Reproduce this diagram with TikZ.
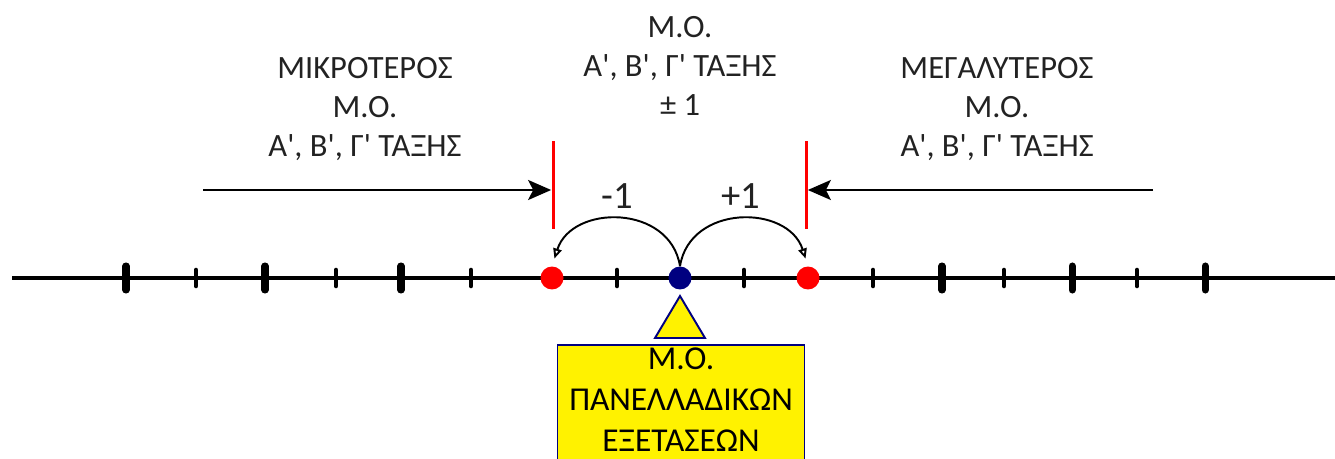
\documentclass[tikz,border=0pt]{standalone}
\usepackage{fontspec}
\setmainfont{Carlito}[Ligatures=TeXOff]
\usetikzlibrary{arrows.meta}
\definecolor{moblue}{RGB}{0,0,128}
\definecolor{txtgray}{RGB}{34,34,34}

\begin{document}
\begin{tikzpicture}[x=0.02cm, y=-0.02cm,
    txt/.style={align=center, text=txtgray, font=\fontsize{18.5}{22}\selectfont},
    dot/.style={circle, inner sep=0pt, minimum size=0.46cm},
    bar/.style={fill=red, inner sep=0pt, minimum width=0.06cm, minimum height=1.78cm},
    major/.style={line width=4pt, line cap=round},
    minor/.style={line width=2.6pt, line cap=round},
    jump/.style={line width=1.1pt, -{Triangle[open, length=0.2cm, width=0.17cm]}, shorten >=0.16cm},
    limit/.style={line width=1.2pt, -{Stealth[length=0.46cm, width=0.4cm, inset=0.1cm]}}]
  \clip (0,0) rectangle (1335,459);

  % number line
  \draw[line width=2.8pt] (12,278) -- (1335,278);
  \foreach \x in {126,265,401,942,1072,1205}
    \draw[major] (\x,266) -- (\x,290);
  \foreach \x in {196,336,471,617,744,873,1004,1137}
    \draw[minor] (\x,270) -- (\x,286);

  \node[dot, fill=red] at (552,278) (lo) {};
  \node[dot, fill=moblue] at (680,278) (mo) {};
  \node[dot, fill=red] at (808,278) (hi) {};

  % limits
  \node[bar] at (553,185) (barL) {};
  \node[bar] at (806,185) (barR) {};
  \coordinate (startL) at (203,190);
  \coordinate (startR) at (1153,190);
  \draw[limit] (startL) -- (startL -| barL.west);
  \draw[limit] (startR) -- (startR -| barR.east);

  % -1 / +1
  \draw[jump] (mo.north) .. controls (670,204) and (572,204) .. (lo.north);
  \draw[jump] (mo.north) .. controls (690,204) and (788,204) .. (hi.north);
  \node[txt, font=\fontsize{22}{24}\selectfont] at (617,196) (minus) {-1};
  \node[txt, font=\fontsize{22}{24}\selectfont] at (741,196) (plus) {+1};

  % texts
  \node[txt] at (365,109) (small) {ΜΙΚΡΟΤΕΡΟΣ\\Μ.Ο.\\Α', Β', Γ' ΤΑΞΗΣ};
  \node[txt] at (680,66) (range) {Μ.Ο.\\Α', Β', Γ' ΤΑΞΗΣ\\± 1};
  \node[txt] at (997,109) (big) {ΜΕΓΑΛΥΤΕΡΟΣ\\Μ.Ο.\\Α', Β', Γ' ΤΑΞΗΣ};

  % national exams
  \draw[fill=yellow, draw=moblue, line width=1.1pt] (680,296) -- (705,338) -- (655,338) -- cycle;
  \node[draw=moblue, fill=yellow, line width=1.1pt, minimum width=4.94cm, minimum height=2.7cm,
        anchor=north, inner sep=0pt] at (681,344) (exams) {};
  \node[txt, text=black, font=\fontsize{19}{23.5}\selectfont, anchor=north, inner sep=0pt] at (681,347) {Μ.Ο.\\ΠΑΝΕΛΛΑΔΙΚΩΝ\\ΕΞΕΤΑΣΕΩΝ};
\end{tikzpicture}
\end{document}
